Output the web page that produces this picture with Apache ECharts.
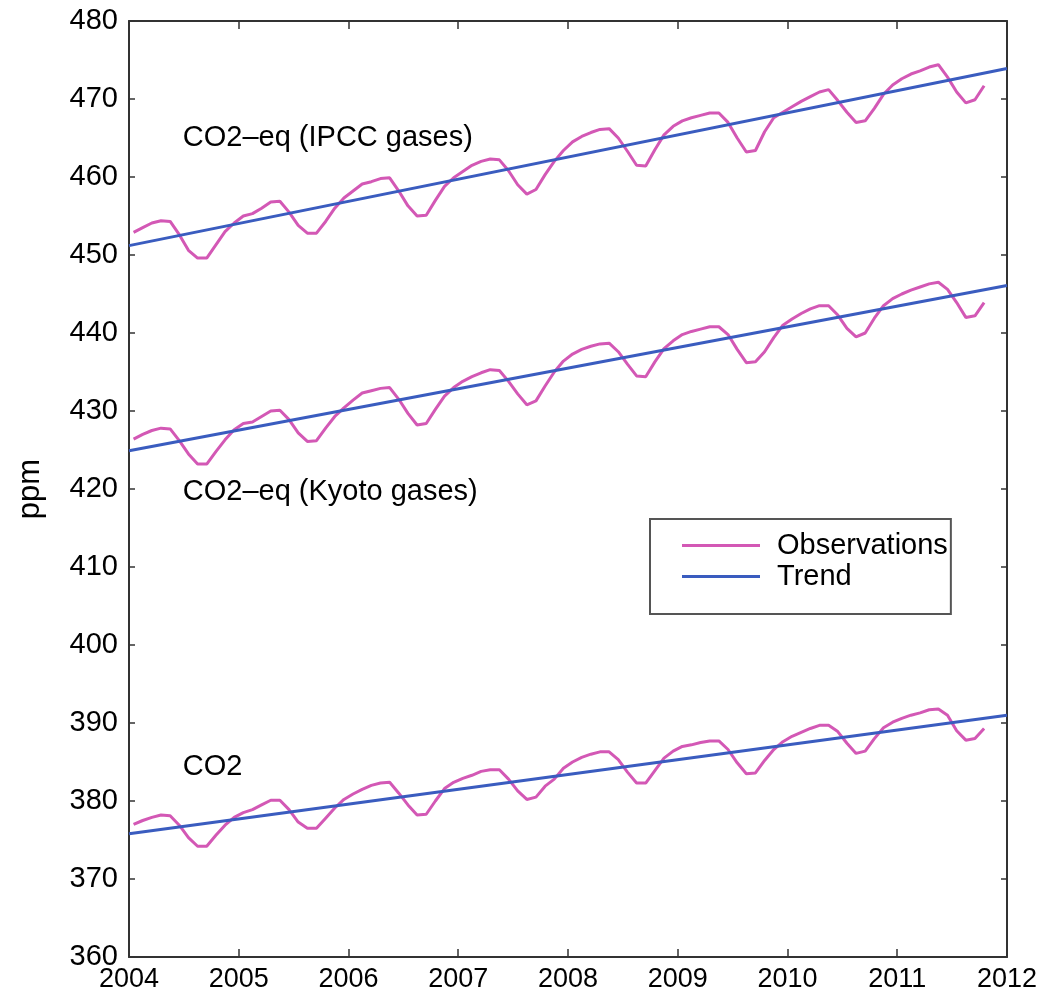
<!DOCTYPE html>
<html>
<head>
<meta charset="utf-8">
<style>
  html, body { margin: 0; padding: 0; background: #fff; }
  #chart { width: 1040px; height: 995px; }
</style>
<script src="https://cdn.jsdelivr.net/npm/echarts@6/dist/echarts.min.js"></script>
</head>
<body>
<div id="chart"></div>
<script>
// ---------------- DATA ----------------
const startYear = 2004;              // first monthly observation: Jan 2004
const yearTicks = [2004, 2005, 2006, 2007, 2008, 2009, 2010, 2011, 2012];
const ppmTicks = [360, 370, 380, 390, 400, 410, 420, 430, 440, 450, 460, 470, 480];

// Monthly observations (Jan 2004 .. Oct 2011), ppm
const ipccObs = [
  452.9, 453.5, 454.1, 454.4, 454.3, 452.6, 450.6, 449.6, 449.6, 451.3, 453.0, 454.1,
  455.0, 455.3, 456.0, 456.8, 456.9, 455.5, 453.8, 452.8, 452.8, 454.3, 456.0, 457.3,
  458.2, 459.1, 459.4, 459.8, 459.9, 458.2, 456.3, 455.0, 455.1, 457.0, 458.8, 459.9,
  460.7, 461.5, 462.0, 462.3, 462.2, 460.8, 459.0, 457.8, 458.4, 460.3, 462.0, 463.4,
  464.5, 465.2, 465.7, 466.1, 466.2, 465.0, 463.3, 461.5, 461.4, 463.5, 465.4, 466.5,
  467.2, 467.6, 467.9, 468.2, 468.2, 467.0, 465.0, 463.2, 463.4, 465.8, 467.6, 468.3,
  469.0, 469.7, 470.3, 470.9, 471.2, 469.8, 468.3, 467.0, 467.2, 468.8, 470.6, 471.8,
  472.6, 473.2, 473.6, 474.1, 474.4, 472.8, 470.9, 469.5, 469.9, 471.7
];
const kyotoObs = [
  426.4, 427.0, 427.5, 427.8, 427.7, 426.2, 424.5, 423.2, 423.2, 424.8, 426.3, 427.6,
  428.4, 428.6, 429.3, 430.0, 430.1, 428.9, 427.2, 426.1, 426.2, 427.8, 429.3, 430.4,
  431.4, 432.3, 432.6, 432.9, 433.0, 431.5, 429.7, 428.2, 428.4, 430.2, 431.9, 433.0,
  433.8, 434.4, 434.9, 435.3, 435.2, 433.8, 432.2, 430.8, 431.3, 433.2, 435.0, 436.4,
  437.3, 437.9, 438.3, 438.6, 438.7, 437.6, 436.0, 434.5, 434.4, 436.3, 438.0, 439.0,
  439.8, 440.2, 440.5, 440.8, 440.8, 439.8, 437.9, 436.2, 436.3, 437.6, 439.4, 441.0,
  441.8, 442.5, 443.1, 443.5, 443.5, 442.3, 440.6, 439.5, 440.0, 441.9, 443.5, 444.4,
  445.0, 445.5, 445.9, 446.3, 446.5, 445.6, 443.9, 442.0, 442.2, 443.9
];
const co2Obs = [
  377.0, 377.5, 377.9, 378.2, 378.1, 376.9, 375.3, 374.2, 374.2, 375.6, 376.9, 377.9,
  378.5, 378.9, 379.5, 380.1, 380.1, 378.9, 377.3, 376.5, 376.5, 377.8, 379.1, 380.2,
  380.9, 381.5, 382.0, 382.3, 382.4, 381.0, 379.5, 378.2, 378.3, 380.0, 381.6, 382.4,
  382.9, 383.3, 383.8, 384.0, 384.0, 382.8, 381.3, 380.2, 380.5, 381.9, 382.8, 384.2,
  385.0, 385.6, 386.0, 386.3, 386.3, 385.3, 383.7, 382.3, 382.3, 383.9, 385.5, 386.4,
  387.0, 387.2, 387.5, 387.7, 387.7, 386.6, 384.9, 383.5, 383.6, 385.2, 386.6, 387.6,
  388.3, 388.8, 389.3, 389.7, 389.7, 388.9, 387.4, 386.1, 386.4, 388.0, 389.4, 390.1,
  390.6, 391.0, 391.3, 391.7, 391.8, 391.0, 389.0, 387.8, 388.0, 389.3
];

// Linear trends (endpoints at 2004 and 2012)
const trendYears = [2004, 2012];
const ipccTrend = [451.2, 473.9];
const kyotoTrend = [424.9, 446.1];
const co2Trend = [375.8, 391.0];

// Annotations
const annotationTexts = ['CO2\u2013eq (IPCC gases)', 'CO2\u2013eq (Kyoto gases)', 'CO2'];
const annotationYears = [2004.49, 2004.49, 2004.49];
const annotationValues = [465.0, 419.6, 384.4];

const seriesNames = ['Observations', 'Trend'];
const axisName = 'ppm';

// ---------------- BUILD ----------------
const FONT = "'Liberation Sans', Arial, Helvetica, sans-serif";
const OBS_COLOR = '#d358b5';
const TREND_COLOR = '#3a5cbf';
const AXIS_COLOR = '#333333';

function monthly(arr) {
  return arr.map((v, i) => [startYear + (i + 0.5) / 12, v]);
}
function trend(arr) {
  return arr.map((v, i) => [trendYears[i], v]);
}

const obsSets = [ipccObs, kyotoObs, co2Obs];
const trendSets = [ipccTrend, kyotoTrend, co2Trend];

const series = [];
obsSets.forEach(a => series.push({
  name: seriesNames[0], type: 'line', data: monthly(a), symbol: 'none',
  lineStyle: { color: OBS_COLOR, width: 3 }, itemStyle: { color: OBS_COLOR },
  animation: false, z: 2
}));
trendSets.forEach((a, k) => {
  const s = {
    name: seriesNames[1], type: 'line', data: trend(a), symbol: 'none',
    lineStyle: { color: TREND_COLOR, width: 3 }, itemStyle: { color: TREND_COLOR },
    animation: false, z: 3
  };
  s.markPoint = {
    symbol: 'circle', symbolSize: 0, silent: true, animation: false,
    data: [{
      coord: [annotationYears[k], annotationValues[k]],
      label: {
        show: true, position: 'right', distance: 0,
        formatter: annotationTexts[k], color: '#000',
        fontFamily: FONT, fontSize: 29
      }
    }]
  };
  series.push(s);
});

const axisCommon = {
  axisLine: { show: true, onZero: false, lineStyle: { color: AXIS_COLOR, width: 2 } },
  splitLine: { show: false }
};

const option = {
  backgroundColor: '#ffffff',
  animation: false,
  grid: { left: 129, right: 32, top: 21, bottom: 38, containLabel: false },
  legend: {
    data: [
      { name: seriesNames[0], icon: 'rect', itemStyle: { color: OBS_COLOR } },
      { name: seriesNames[1], icon: 'rect', itemStyle: { color: TREND_COLOR } }
    ],
    orient: 'vertical',
    left: 650, top: 519,
    padding: [11, 3, 22, 32],
    itemWidth: 78, itemHeight: 3, itemGap: 0,
    backgroundColor: '#fff',
    borderColor: '#555', borderWidth: 2, borderRadius: 0,
    textStyle: { fontFamily: FONT, fontSize: 29, color: '#000', padding: [0, 0, 0, 12], lineHeight: 31 },
    selectedMode: false
  },
  xAxis: [
    Object.assign({}, axisCommon, {
      type: 'value', position: 'bottom', min: yearTicks[0], max: yearTicks[yearTicks.length - 1], interval: 1,
      axisTick: { show: true, inside: true, length: 8, lineStyle: { color: AXIS_COLOR, width: 1.5 } },
      axisLabel: { show: true, margin: 9, color: '#000', fontFamily: FONT, fontSize: 27, formatter: v => String(v) }
    }),
    Object.assign({}, axisCommon, {
      type: 'value', position: 'top', min: yearTicks[0], max: yearTicks[yearTicks.length - 1], interval: 1,
      axisTick: { show: true, inside: true, length: 8, lineStyle: { color: AXIS_COLOR, width: 1.5 } },
      axisLabel: { show: false }
    })
  ],
  yAxis: [
    Object.assign({}, axisCommon, {
      type: 'value', position: 'left', min: ppmTicks[0], max: ppmTicks[ppmTicks.length - 1], interval: 10,
      name: axisName, nameLocation: 'middle', nameGap: 83, nameRotate: 90,
      nameTextStyle: { color: '#000', fontFamily: FONT, fontSize: 31 },
      axisTick: { show: true, inside: true, length: 6, lineStyle: { color: AXIS_COLOR, width: 1.5 } },
      axisLabel: { show: true, margin: 11, color: '#000', fontFamily: FONT, fontSize: 29 }
    }),
    Object.assign({}, axisCommon, {
      type: 'value', position: 'right', min: ppmTicks[0], max: ppmTicks[ppmTicks.length - 1], interval: 10,
      axisTick: { show: true, inside: true, length: 6, lineStyle: { color: AXIS_COLOR, width: 1.5 } },
      axisLabel: { show: false }
    })
  ],
  series: series
};

const chart = echarts.init(document.getElementById('chart'), null, { renderer: 'canvas' });
chart.setOption(option);
</script>
</body>
</html>
